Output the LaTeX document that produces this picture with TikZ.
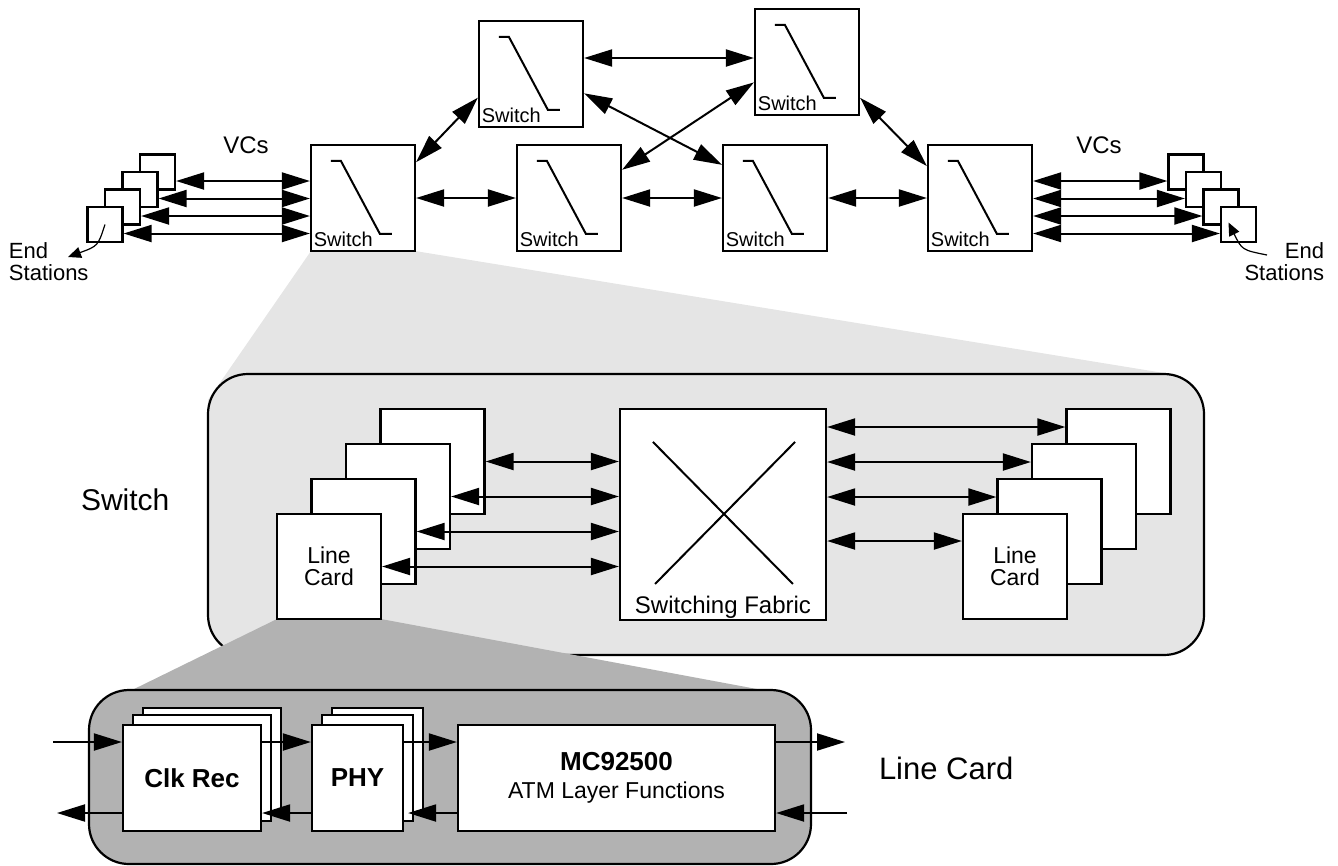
\documentclass[tikz,border=0pt]{standalone}
\usepackage{fontspec}
\setmainfont{Liberation Sans}
\usetikzlibrary{arrows.meta}

\definecolor{lightfill}{gray}{0.9}
\definecolor{darkfill}{gray}{0.7}

\tikzset{
  box/.style={draw, line width=2.2pt, fill=white, inner sep=0pt},
  swbox/.style={box, minimum width=104pt, minimum height=106pt},
  esbox/.style={box, minimum width=35pt, minimum height=35pt},
  cardbox/.style={box, minimum width=104pt, minimum height=105pt, align=center,
    font=\fontsize{23}{22}\selectfont},
  lcbox/.style={box, minimum height=106pt, font=\bfseries\fontsize{26}{28}\selectfont},
  panel/.style={draw, line width=2.2pt, rounded corners=40pt, inner sep=0pt},
  txt/.style={inner sep=0pt},
  ptr/.style={line width=1.2pt, -{Triangle[length=13pt,width=11pt]}}
}

\begin{document}
\begin{tikzpicture}[x=1pt, y=-1pt, line width=2pt, >={Triangle[length=28pt,width=17pt]}]
        \useasboundingbox (0,0) rectangle (1338,865);

        % zoom wedges
        \fill[lightfill] (311,251) -- (415,251) -- (1170,374) -- (1170,420) -- (208,420) -- (208,400) -- cycle;
        \node[panel, fill=lightfill, minimum width=996pt, minimum height=281pt] (swpanel) at (706,514.5) {};
        \fill[darkfill] (277,619) -- (381,619) -- (773,692) -- (773,720) -- (128,720) -- (128,692) -- cycle;
        \node[panel, fill=darkfill, minimum width=722pt, minimum height=174pt] (lcpanel) at (450,777) {};

        % network
        \foreach \n/\x/\y in {s1/363/198, s2/531/74, s3/807/62, m1/569/198, m2/775/198, s6/980/198}{
          \node[swbox] (\n) at (\x,\y) {};
          \draw (\n.north west) ++(21,17) -- ++(10,0) -- ++(39,73) -- ++(12,0);
          \node[txt, anchor=base west, font=\fontsize{20}{24}\selectfont] (\n-t) at ([shift={(3,-6)}]\n.south west) {Switch};
        }
        \draw[<->] (s1.34) -- (s2.204);
        \draw[<->] ([yshift=16]s2.east) -- ([yshift=4]s3.west);
        \draw[<->] (s2.340) -- (m2.148);
        \draw[<->] (s3.201) -- (m1.28);
        \draw[<->] (s3.326) -- (s6.149);
        \draw[<->] (s1.east) -- (m1.west);
        \draw[<->] (m1.east) -- (m2.west);
        \draw[<->] (m2.east) -- (s6.west);

        % end stations
        \foreach \i/\x/\y in {1/157.5/172, 2/140/189.5, 3/122.5/207, 4/105/224.5}
          \node[esbox] (l\i) at (\x,\y) {};
        \foreach \i/\x/\y in {1/1186/172, 2/1203.5/189.5, 3/1221/207, 4/1238.5/224.5}
          \node[esbox] (r\i) at (\x,\y) {};
        \foreach \i in {1,...,4}{
          \coordinate (v\i) at ([yshift=-9]l\i.east);
          \draw[<->] (v\i) -- (v\i -| s1.west);
          \coordinate (w\i) at ([yshift=-9]r\i.west);
          \draw[<->] (w\i -| s6.east) -- (w\i);
        }
        \node[txt, font=\fontsize{24}{24}\selectfont] (vcl) at (246,145) {VCs};
        \node[txt, font=\fontsize{24}{24}\selectfont] (vcr) at (1099,145) {VCs};
        \node[txt, anchor=north west, align=left, font=\fontsize{22}{22}\selectfont] (esl) at (8,242) {End\\Stations};
        \node[txt, anchor=north east, align=right, font=\fontsize{22}{22}\selectfont] (esr) at (1325,242) {End\\Stations};
        \coordinate (pl) at (68,257);
        \coordinate (pr) at (1267,255);
        \draw[ptr] (l4.center) .. controls (98,246) .. (pl);
        \draw[ptr] (pr) .. controls (1242,250) .. ([shift={(-10,-2)}]r4.center);

        % switch
        \foreach \i/\x/\y in {4/432.5/461.5, 3/398/496.5, 2/363.5/531.5}
          \node[cardbox] (lc\i) at (\x,\y) {};
        \node[cardbox] (lc1) at (329,566.5) {Line\\Card};
        \foreach \i/\x/\y in {4/1118.5/461.5, 3/1084/496.5, 2/1049.5/531.5}
          \node[cardbox] (rc\i) at (\x,\y) {};
        \node[cardbox] (rc1) at (1015,566.5) {Line\\Card};

        \node[box, minimum width=206pt, minimum height=211pt] (fab) at (723,514.5) {};
        \draw (fab.north west) ++(34,34) -- ++(140,142);
        \draw (fab.north east) ++(-32,34) -- ++(-140,142);
        \node[txt, anchor=base, font=\fontsize{24}{24}\selectfont] (fab-t) at ([yshift=8]fab.south) {Switching Fabric};

        \foreach \i in {1,...,4}
          \draw[<->] (lc\i.east) -- (lc\i.east -| fab.west);
        \foreach \i/\d in {4/34.5, 3/34.5, 2/34.5, 1/25.5}{
          \coordinate (rca\i) at ([yshift=\d]rc\i.west);
          \draw[<->] (rca\i -| fab.east) -- (rca\i);
        }
        \node[txt, anchor=west, font=\fontsize{30}{30}\selectfont] (swlab) at (80,500) {Switch};

        % line card
        \node[lcbox, minimum width=138pt] (clk3) at (212,761) {};
        \node[lcbox, minimum width=138pt] (clk2) at (202,768) {};
        \node[lcbox, minimum width=138pt] (clk) at (192,778) {\raisebox{-5pt}{Clk Rec}};
        \node[lcbox, minimum width=91pt] (phy3) at (377.5,761) {};
        \node[lcbox, minimum width=91pt] (phy2) at (367.5,768) {};
        \node[lcbox, minimum width=91pt] (phy) at (357.5,778) {\raisebox{-5pt}{PHY}};
        \node[box, minimum width=317pt, minimum height=106pt, align=center,
          font=\fontsize{23}{28}\selectfont] (mc) at (616.5,778)
          {\textbf{\fontsize{26}{28}\selectfont MC92500}\\ATM Layer Functions};

        \coordinate (inl) at (53,742);
        \coordinate (outl) at (57,813);
        \coordinate (outr) at (845,742);
        \coordinate (inr) at (847,813);
        \draw[->] (inl) -- (inl -| clk.west);
        \draw[->] ([yshift=-35]clk.west) -- (outl);
        \draw[->] ([yshift=36]clk.east) -- ([yshift=36]phy.west);
        \draw[->] ([yshift=36]phy.east) -- ([yshift=36]mc.west);
        \draw[->] ([yshift=36]mc.east) -- (outr);
        \draw[->] (inr) -- ([yshift=-35]mc.east);
        \draw[->] ([yshift=-35]mc.west) -- ([xshift=4,yshift=-35]phy.east);
        \draw[->] ([yshift=-35]phy.west) -- ([yshift=-35]clk.east);
        \node[txt, anchor=base west, font=\fontsize{31}{31}\selectfont] (lclab) at (878,779) {Line Card};
      \end{tikzpicture}
\end{document}
